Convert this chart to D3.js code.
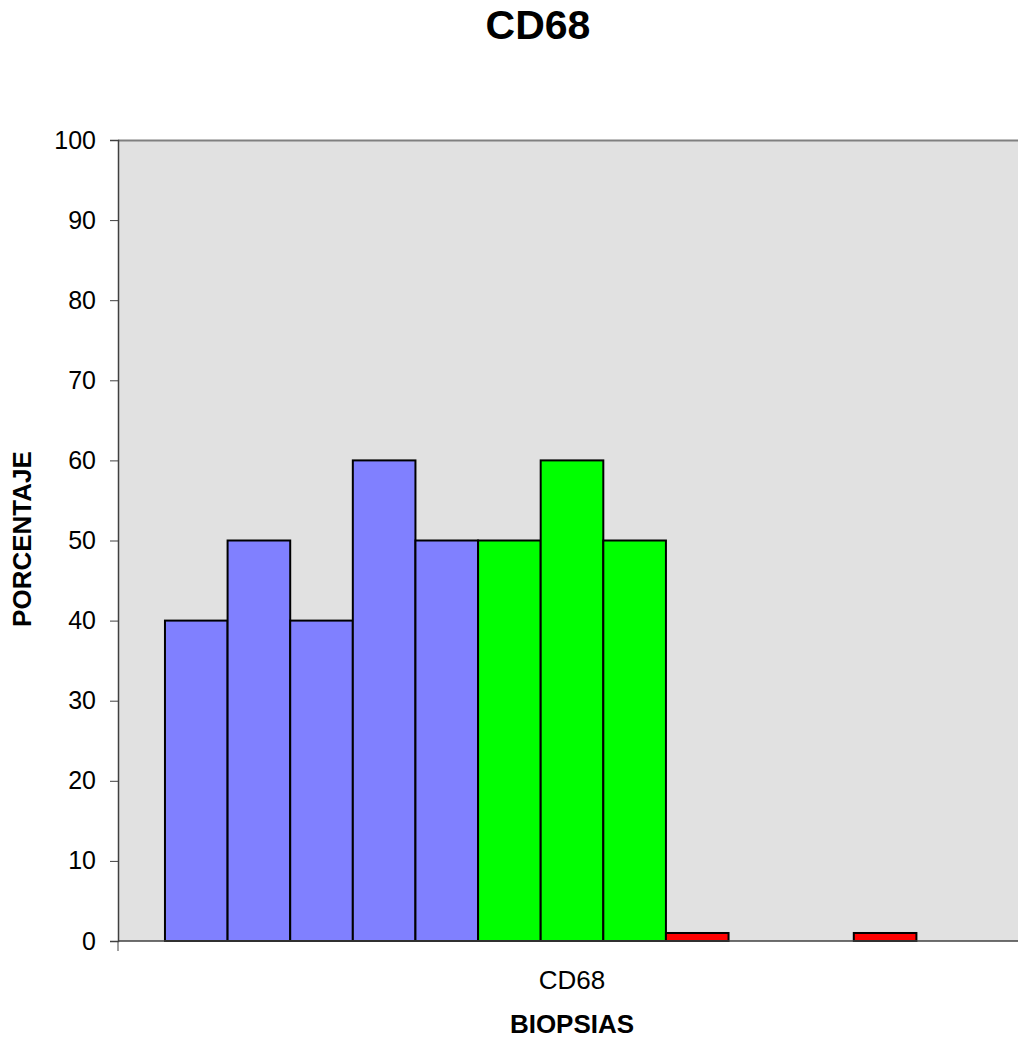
<!DOCTYPE html>
<html>
<head>
<meta charset="utf-8">
<script src="https://cdn.jsdelivr.net/npm/d3@7"></script>
<style>
  html, body { margin: 0; padding: 0; background: #fff; }
  svg { display: block; font-family: "Liberation Sans", Arial, sans-serif; }
</style>
</head>
<body>
<svg id="chart" width="1018" height="1038"></svg>
<script>
// one category, 13 series: 5 blue, 3 green, 5 red
const category = "CD68";
const values = [40, 50, 40, 60, 50, 50, 60, 50, 1, 0, 0, 1, 0];
const colors = ["#8080ff", "#8080ff", "#8080ff", "#8080ff", "#8080ff",
                "#00ff00", "#00ff00", "#00ff00",
                "#ff0000", "#ff0000", "#ff0000", "#ff0000", "#ff0000"];
const yTicks = [0, 10, 20, 30, 40, 50, 60, 70, 80, 90, 100];

const svg = d3.select("#chart");
const M = { left: 118, right: 1026, top: 140, bottom: 941 };

const y = d3.scaleLinear().domain([0, 100]).range([M.bottom, M.top]);
const xCat = d3.scaleBand().domain([category]).range([M.left, M.right]).paddingInner(0).paddingOuter(0);
// excel-style gap width of 150% -> bars take 13 / 14.5 of the category band
const groupW = xCat.bandwidth() * values.length / (values.length + 1.5);
const x = d3.scaleBand().domain(d3.range(values.length))
  .range([xCat(category) + (xCat.bandwidth() - groupW) / 2, xCat(category) + (xCat.bandwidth() + groupW) / 2]);

// plot area
svg.append("rect")
  .attr("x", M.left).attr("y", M.top)
  .attr("width", M.right - M.left).attr("height", M.bottom - M.top)
  .attr("fill", "#e1e1e1");
svg.append("line")
  .attr("x1", M.left).attr("x2", M.right).attr("y1", M.top + 0.5).attr("y2", M.top + 0.5)
  .attr("stroke", "#808080").attr("stroke-width", 2);

// bars
svg.append("g").selectAll("rect").data(values).join("rect")
  .attr("x", (d, i) => x(i))
  .attr("y", (d) => y(d))
  .attr("width", x.bandwidth())
  .attr("height", (d) => y(0) - y(d))
  .attr("fill", (d, i) => colors[i])
  .attr("stroke", "#000")
  .attr("stroke-width", (d) => d > 0 ? 2 : 0);

// y axis
const yAxis = svg.append("g").attr("transform", `translate(${M.left},0)`)
  .call(d3.axisLeft(y).tickValues(yTicks).tickSize(8).tickPadding(14));
yAxis.select(".domain").attr("stroke", "#404040").attr("stroke-width", 1.5);
yAxis.selectAll(".tick line").attr("stroke", "#404040");
yAxis.selectAll("text").attr("font-size", 25).attr("fill", "#000")
  .attr("font-family", "Liberation Sans, Arial, sans-serif");

// x axis with category boundary ticks
const xAxis = svg.append("g").attr("transform", `translate(0,${M.bottom})`);
xAxis.append("line").attr("x1", M.left).attr("x2", M.right)
  .attr("stroke", "#404040").attr("stroke-width", 1.5);
xAxis.selectAll(".bound").data([M.left, M.right]).join("line")
  .attr("x1", (d) => d).attr("x2", (d) => d).attr("y1", 0).attr("y2", 10)
  .attr("stroke", "#404040");
xAxis.append("text")
  .attr("x", xCat(category) + xCat.bandwidth() / 2).attr("y", 48)
  .attr("text-anchor", "middle").attr("font-size", 26).text(category);

// titles
svg.append("text").attr("x", 538).attr("y", 39)
  .attr("text-anchor", "middle").attr("font-size", 41).attr("font-weight", "bold").text("CD68");
svg.append("text").attr("x", 572).attr("y", 1033)
  .attr("text-anchor", "middle").attr("font-size", 26).attr("font-weight", "bold").text("BIOPSIAS");
svg.append("text").attr("transform", "translate(31,539) rotate(-90)")
  .attr("text-anchor", "middle").attr("font-size", 26).attr("font-weight", "bold").text("PORCENTAJE");
</script>
</body>
</html>
